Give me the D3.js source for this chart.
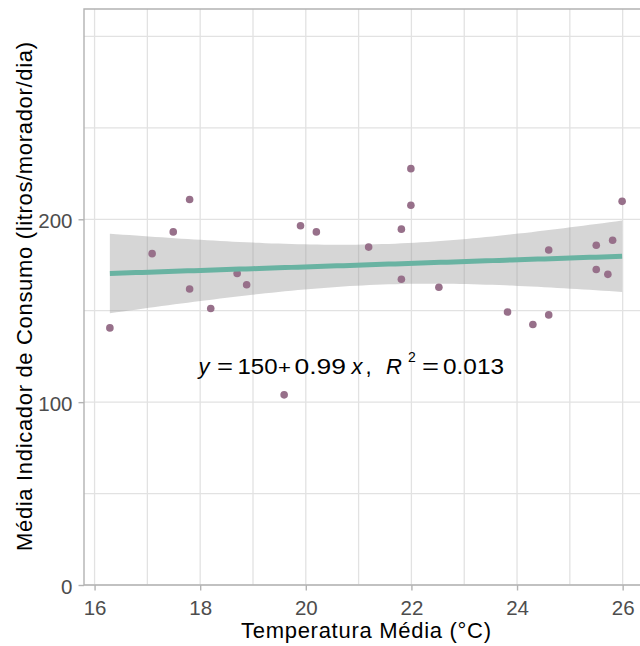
<!DOCTYPE html>
<html lang="pt">
<head>
<meta charset="UTF-8">
<title>Consumo vs Temperatura</title>
<script src="https://cdnjs.cloudflare.com/ajax/libs/d3/7.8.5/d3.min.js"></script>
<style>
  body { margin: 0; background: #fff; }
  text { font-family: "Liberation Sans", Arial, sans-serif; }
</style>
</head>
<body>
<svg id="chart" width="640" height="646"></svg>
<script>
    // mean temperature (°C) per city
    const temps = [16.29, 17.09, 17.49, 17.80, 17.80, 18.20, 18.70, 18.88, 19.59, 19.90,
                   20.20, 21.19, 21.81, 21.81, 21.99, 21.99, 22.52, 23.82, 24.30, 24.60,
                   24.60, 25.50, 25.50, 25.72, 25.81, 25.99];
    // mean consumption indicator (litros/morador/dia)
    const consumo = [140.6, 181.2, 193.1, 210.8, 161.9, 151.2, 170.4, 164.2, 104.0, 196.5,
                     193.1, 184.8, 194.6, 167.2, 227.7, 207.7, 162.8, 149.3, 142.5, 147.7,
                     183.2, 185.8, 172.5, 169.9, 188.5, 209.8];

    const xTicks = [16, 18, 20, 22, 24, 26];
    const xMinor = [17, 19, 21, 23, 25];
    const yTicks = [0, 100, 200];
    const yMinor = [50, 150, 250, 300];

    const xTitle = 'Temperatura Média (°C)';
    const yTitle = 'Média Indicador de Consumo (litros/morador/dia)';
    const eqParts = ['150', '0.99', '0.013'];

    const pts = temps.map((t, i) => ({ x: t, y: consumo[i] }));

    const svg = d3.select('#chart');
    const pLeft = 84, pTop = 9, pRight = 648, pBottom = 585;

    const x = d3.scaleLinear().domain([15.8, 26.48]).range([pLeft, pRight]);
    const y = d3.scaleLinear().domain([0, 315]).range([pBottom, pTop]);

    svg.append('clipPath').attr('id', 'panel')
      .append('rect')
      .attr('x', pLeft).attr('y', pTop)
      .attr('width', pRight - pLeft).attr('height', pBottom - pTop);

    const grid = svg.append('g').attr('stroke', '#e2e2e2').attr('stroke-width', 1.3);
    grid.selectAll('.gx')
      .data(xTicks.concat(xMinor))
      .enter().append('line')
      .attr('x1', d => x(d)).attr('x2', d => x(d))
      .attr('y1', pTop).attr('y2', pBottom);
    grid.selectAll('.gy')
      .data(yTicks.concat(yMinor))
      .enter().append('line')
      .attr('x1', pLeft).attr('x2', pRight)
      .attr('y1', d => y(d)).attr('y2', d => y(d));

    // linear fit + 95% confidence band (like geom_smooth(method = "lm"))
    const n = pts.length;
    const mx = d3.mean(temps), my = d3.mean(consumo);
    const sxx = d3.sum(temps, t => (t - mx) ** 2);
    const sxy = d3.sum(pts, p => (p.x - mx) * (p.y - my));
    const b = sxy / sxx, a = my - b * mx;
    const s = Math.sqrt(d3.sum(pts, p => (p.y - a - b * p.x) ** 2) / (n - 2));
    const tq = 2.0639;
    const xs = d3.range(80).map(i => d3.min(temps) + i * (d3.max(temps) - d3.min(temps)) / 79);
    const fit = xs.map(v => {
      const se = s * Math.sqrt(1 / n + (v - mx) ** 2 / sxx);
      const f = a + b * v;
      return { x: v, y: f, lo: f - tq * se, hi: f + tq * se };
    });

    const plot = svg.append('g').attr('clip-path', 'url(#panel)');

    plot.append('path')
      .datum(fit)
      .attr('fill', '#999999')
      .attr('fill-opacity', 0.4)
      .attr('d', d3.area().x(d => x(d.x)).y0(d => y(d.lo)).y1(d => y(d.hi)));

    plot.selectAll('circle')
      .data(pts)
      .enter().append('circle')
      .attr('cx', d => x(d.x))
      .attr('cy', d => y(d.y))
      .attr('r', 3.8)
      .attr('fill', '#97708a');

    plot.append('path')
      .datum(fit)
      .attr('fill', 'none')
      .attr('stroke', '#69b3a2')
      .attr('stroke-width', 5)
      .attr('d', d3.line().x(d => x(d.x)).y(d => y(d.y)));

    // panel border (left, top, bottom)
    svg.append('path')
      .attr('d', `M${pLeft},${pBottom}V${pTop}H${pRight}`)
      .attr('fill', 'none').attr('stroke', '#b3b3b3').attr('stroke-width', 1.4);
    svg.append('line')
      .attr('x1', pLeft).attr('x2', pRight).attr('y1', pBottom).attr('y2', pBottom)
      .attr('stroke', '#b3b3b3').attr('stroke-width', 1.4);

    // axes
    const xAxis = svg.append('g')
      .attr('transform', `translate(0,${pBottom})`)
      .call(d3.axisBottom(x).tickValues(xTicks).tickSize(5.5));
    const yAxis = svg.append('g')
      .attr('transform', `translate(${pLeft},0)`)
      .call(d3.axisLeft(y).tickValues(yTicks).tickSize(5.5));
    [xAxis, yAxis].forEach(g => {
      g.select('.domain').remove();
      g.selectAll('.tick line').attr('stroke', '#b3b3b3').attr('stroke-width', 1.4);
      g.selectAll('.tick text')
        .attr('fill', '#4d4d4d')
        .style('font-size', '20.5px')
        .style('font-family', '"Liberation Sans", Arial, sans-serif');
    });
    yAxis.selectAll('.tick text').attr('x', -11.5).attr('dy', null).attr('y', 8);
    xAxis.selectAll('.tick text').attr('dy', null).attr('y', 30);

    svg.append('text')
      .attr('x', 366).attr('y', 638)
      .attr('text-anchor', 'middle')
      .attr('textLength', 250)
      .attr('lengthAdjust', 'spacing')
      .style('font-size', '22px')
      .text(xTitle);

    svg.append('text')
      .attr('transform', 'translate(31.5,296.5) rotate(-90)')
      .attr('text-anchor', 'middle')
      .attr('textLength', 509)
      .attr('lengthAdjust', 'spacing')
      .style('font-size', '22px')
      .text(yTitle);

    // equation label (plotmath style spacing)
    const eq = svg.append('text')
      .attr('y', 373.5)
      .style('font-size', '22px')
      .attr('fill', '#000');
    const eqPieces = [
      { t: 'y', x: 198.5, it: true },
      { t: '=', x: 217, len: 16 },
      { t: eqParts[0], x: 237.5, len: 40 },
      { t: '+', x: 278, len: 13, fs: 18 },
      { t: eqParts[1], x: 294.5, len: 51.5 },
      { t: 'x', x: 351.5, it: true },
      { t: ',', x: 365.5 },
      { t: 'R', x: 386, it: true },
      { t: '=', x: 422, len: 17 },
      { t: eqParts[2], x: 443, len: 61 }
    ];
    eqPieces.forEach(p => {
      const ts = eq.append('tspan')
        .attr('x', p.x).attr('y', 373.5)
        .style('font-style', p.it ? 'italic' : 'normal')
        .text(p.t);
      if (p.fs) ts.style('font-size', p.fs + 'px');
      if (p.len) ts.attr('textLength', p.len).attr('lengthAdjust', 'spacingAndGlyphs');
    });
    eq.append('tspan')
      .attr('x', 408).attr('y', 361.5)
      .style('font-size', '14px')
      .text('2');
</script>
</body>
</html>
